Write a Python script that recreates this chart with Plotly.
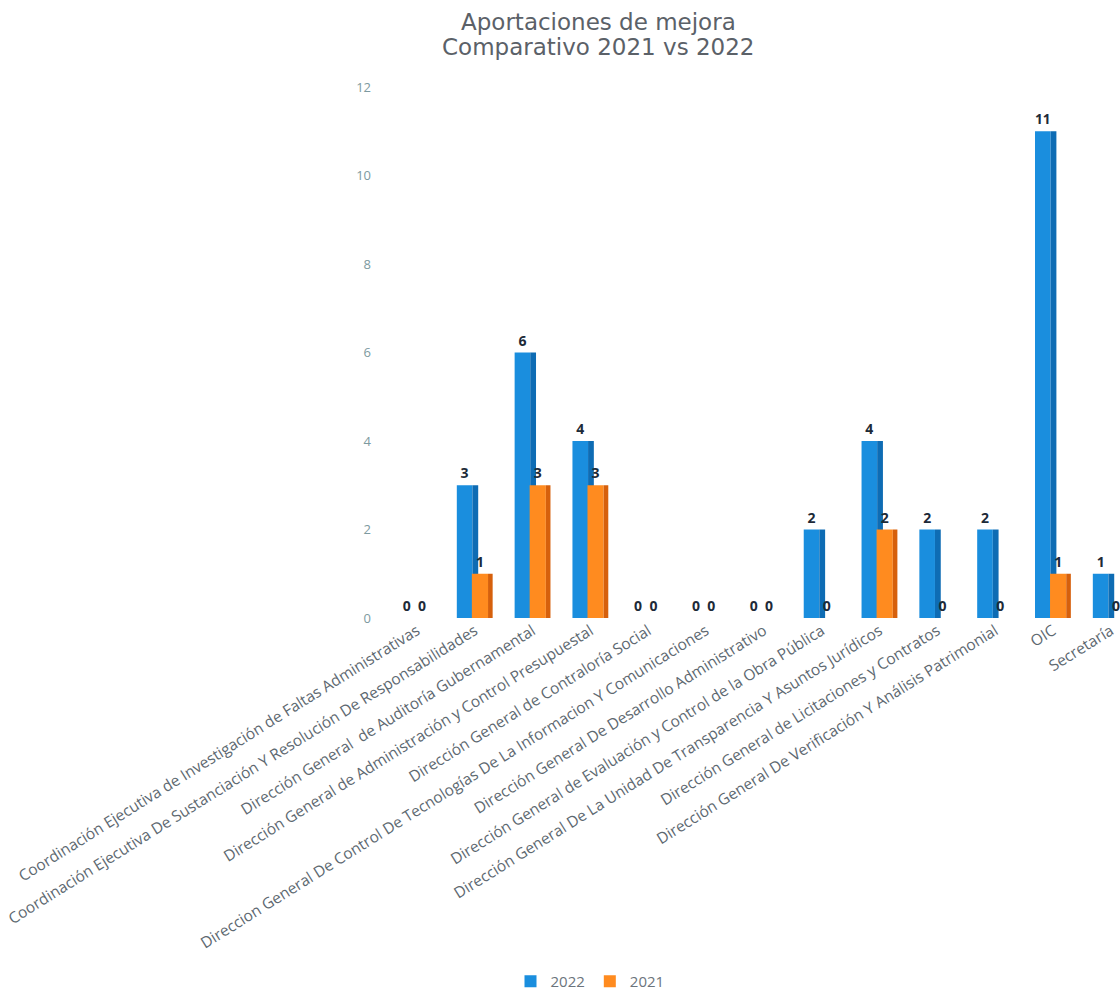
import plotly.graph_objects as go

# Aportaciones de mejora por unidad administrativa, 2022 frente a 2021
categorias = [
    "Coordinación Ejecutiva de Investigación de Faltas Administrativas",
    "Coordinación Ejecutiva De Sustanciación Y Resolución De Responsabilidades",
    "Dirección General  de Auditoría Gubernamental",
    "Dirección General de Administración y Control Presupuestal",
    "Dirección General de Contraloría Social",
    "Direccion General De Control De Tecnologías De La Informacion Y Comunicaciones",
    "Dirección General De Desarrollo Administrativo",
    "Dirección General de Evaluación y Control de la Obra Pública",
    "Dirección General De La Unidad De Transparencia Y Asuntos Jurídicos",
    "Dirección General de Licitaciones y Contratos",
    "Dirección General De Verificación Y Análisis Patrimonial",
    "OIC",
    "Secretaría",
]
valores_2022 = [0, 3, 6, 4, 0, 0, 0, 2, 4, 2, 2, 11, 1]
valores_2021 = [0, 1, 3, 3, 0, 0, 0, 0, 2, 0, 0, 1, 0]

AZUL = "#1a8ede"
AZUL_LADO = "#0e6cb4"
NARANJA = "#ff8b1f"
NARANJA_LADO = "#d6600c"
ETIQUETA = dict(family="Open Sans", size=14, color="#1d2a38")

fig = go.Figure()

# cara frontal y lateral de cada barra (efecto de volumen)
fig.add_trace(go.Bar(
    x=categorias, y=valores_2022, name="2022",
    marker=dict(color=AZUL, line=dict(width=0)),
    offset=-0.31, width=0.27,
    text=[f"<b>{v}</b>" for v in valores_2022], textposition="outside",
    textfont=ETIQUETA, cliponaxis=False,
))
fig.add_trace(go.Bar(
    x=categorias, y=valores_2022, showlegend=False, hoverinfo="skip",
    marker=dict(color=AZUL_LADO, line=dict(width=0)),
    offset=-0.04, width=0.10,
))
fig.add_trace(go.Bar(
    x=categorias, y=valores_2021, name="2021",
    marker=dict(color=NARANJA, line=dict(width=0)),
    offset=-0.05, width=0.28,
    text=[f"<b>{v}</b>" for v in valores_2021], textposition="outside",
    textfont=ETIQUETA, cliponaxis=False,
))
fig.add_trace(go.Bar(
    x=categorias, y=valores_2021, showlegend=False, hoverinfo="skip",
    marker=dict(color=NARANJA_LADO, line=dict(width=0)),
    offset=0.23, width=0.08,
))

titulo = dict(family="DejaVu Sans", size=23, color="#5b6168")
fig.add_annotation(text="Aportaciones de mejora", xref="paper", yref="paper",
                   x=(598 - 388) / 732, y=1 + (87 - 22) / 533,
                   xanchor="center", yanchor="middle", showarrow=False, font=titulo)
fig.add_annotation(text="Comparativo 2021 vs 2022", xref="paper", yref="paper",
                   x=(598 - 388) / 732, y=1 + (87 - 47) / 533,
                   xanchor="center", yanchor="middle", showarrow=False, font=titulo)

fig.update_layout(
    width=1120, height=998,
    margin=dict(l=388, r=0, t=87, b=378),
    paper_bgcolor="white", plot_bgcolor="white",
    barmode="overlay",
    showlegend=True,
    legend=dict(orientation="h", x=(590 - 388) / 732, xanchor="center",
                y=-(985 - 620) / 533, yanchor="middle",
                font=dict(family="Open Sans", size=15, color="#6b747c"),
                itemwidth=30, traceorder="normal"),
    xaxis=dict(
        type="category", range=[-0.5, 12.16],
        tickangle=-32, showgrid=False, showline=False, zeroline=False,
        tickfont=dict(family="Open Sans", size=15.5, color="#5d6870"),
        automargin=False,
    ),
    yaxis=dict(
        range=[0, 12], dtick=2, showgrid=False, showline=False, zeroline=False,
        tickfont=dict(family="Open Sans", size=13, color="#7d9aa0"),
        ticklabelstandoff=16, automargin=False,
    ),
)

fig.write_html("out.html")
